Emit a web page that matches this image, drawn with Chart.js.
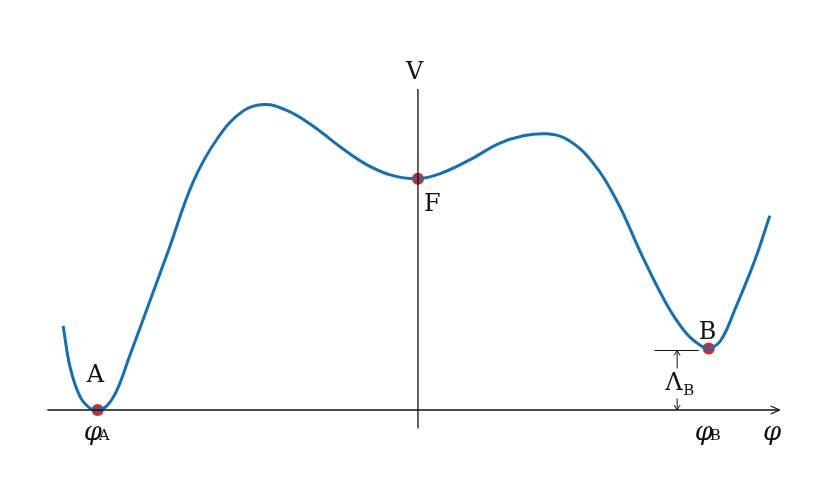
<!DOCTYPE html><html><head><meta charset="utf-8">
<script src="https://cdn.jsdelivr.net/npm/chart.js@4/dist/chart.umd.min.js"></script>
<style>html,body{margin:0;background:#fff}</style></head><body>
<canvas id="c" width="830" height="498"></canvas>
<script>
const phi = [-3.60,-3.53,-3.43,-3.33,-3.25,-3.16,-3.06,-2.93,-2.73,-2.53,-2.28,-2.03,-1.78,-1.56,-1.33,-1.08,-0.78,-0.53,-0.28,0,0.22,0.52,0.82,1.07,1.30,1.52,1.77,2.02,2.27,2.52,2.72,2.87,2.95,3.07,3.22,3.42,3.57];
const V   = [0.86,0.44,0.14,0.02,0,0.04,0.19,0.54,1.09,1.64,2.34,2.79,3.06,3.13,3.07,2.92,2.69,2.52,2.41,2.37,2.42,2.56,2.73,2.81,2.83,2.77,2.54,2.14,1.59,1.09,0.79,0.66,0.63,0.71,1.04,1.54,1.99];
const markPhi = [-3.25,0,2.95];
const markV = [0,2.37,0.63];
const markLabels = ['A','F','B'];
const lambdaB = 0.61;
const C='#111';
const serif='"DejaVu Serif", "Liberation Serif", serif';
const deco={id:'deco',afterDatasetsDraw(ch){
 const c=ch.ctx,x=ch.scales.x,y=ch.scales.y;
 const X=v=>x.getPixelForValue(v),Y=v=>y.getPixelForValue(v);
 c.save();c.strokeStyle=C;c.fillStyle=C;c.lineWidth=1.3;
 // axes
 c.beginPath();c.moveTo(X(-3.76),Y(0));c.lineTo(X(3.67),Y(0));
 c.moveTo(X(0),Y(3.29));c.lineTo(X(0),Y(-0.19));c.stroke();
 c.beginPath();c.moveTo(X(3.67),Y(0));c.lineTo(X(3.67)-9,Y(0)-4);c.moveTo(X(3.67),Y(0));c.lineTo(X(3.67)-9,Y(0)+4);c.stroke();
 // lambda
 c.lineWidth=1;
 const lx=X(2.63);
 c.beginPath();c.moveTo(X(2.40),Y(lambdaB));c.lineTo(X(2.85),Y(lambdaB));
 c.moveTo(lx,Y(lambdaB));c.lineTo(lx,Y(0));
 c.moveTo(lx-3,Y(lambdaB)+5);c.lineTo(lx,Y(lambdaB));c.lineTo(lx+3,Y(lambdaB)+5);
 c.moveTo(lx-3,Y(0)-5);c.lineTo(lx,Y(0));c.lineTo(lx+3,Y(0)-5);c.stroke();
 c.fillStyle='#fff';c.fillRect(lx-14,Y(lambdaB)+18,34,30);c.fillStyle=C;
 c.textBaseline='alphabetic';
 c.font='24px '+serif;c.fillText('Λ',lx-12,Y(lambdaB)+40);
 c.font='15px '+serif;c.fillText('B',lx+6,Y(lambdaB)+45);
 // labels
 c.font='24px '+serif;
 c.fillText('V',X(0)-12,Y(3.40)+1);
 c.fillText('A',X(markPhi[0])-11,Y(0)-28);
 c.fillText('F',X(0)+6,Y(markV[1])+32);
 c.fillText('B',X(markPhi[2])-10,Y(markV[2])-10);
 c.font='italic 26px '+serif;
 c.fillText('φ',X(markPhi[0])-14,Y(0)+30);
 c.fillText('φ',X(markPhi[2])-14,Y(0)+30);
 c.fillText('φ',X(3.5),Y(0)+30);
 c.font='15px '+serif;
 c.fillText('A',X(markPhi[0])+1,Y(0)+30);
 c.fillText('B',X(markPhi[2])+1,Y(0)+30);
 c.restore();}};
new Chart(document.getElementById('c'),{type:'scatter',
 data:{datasets:[
  {data:phi.map((p,i)=>({x:p,y:V[i]})),showLine:true,borderColor:'#1170b8',borderWidth:3,pointRadius:0,tension:0.4,fill:false},
  {data:markPhi.map((p,i)=>({x:p,y:markV[i]})),pointRadius:6,pointBackgroundColor:'#d0282e',pointBorderWidth:0}]},
 options:{responsive:false,animation:false,layout:{padding:0},
  plugins:{legend:{display:false},tooltip:{enabled:false}},
  scales:{x:{type:'linear',min:-4.18,max:4.12,display:false},y:{type:'linear',min:-0.84,max:4.14,display:false}}},
 plugins:[deco]});
</script></body></html>
